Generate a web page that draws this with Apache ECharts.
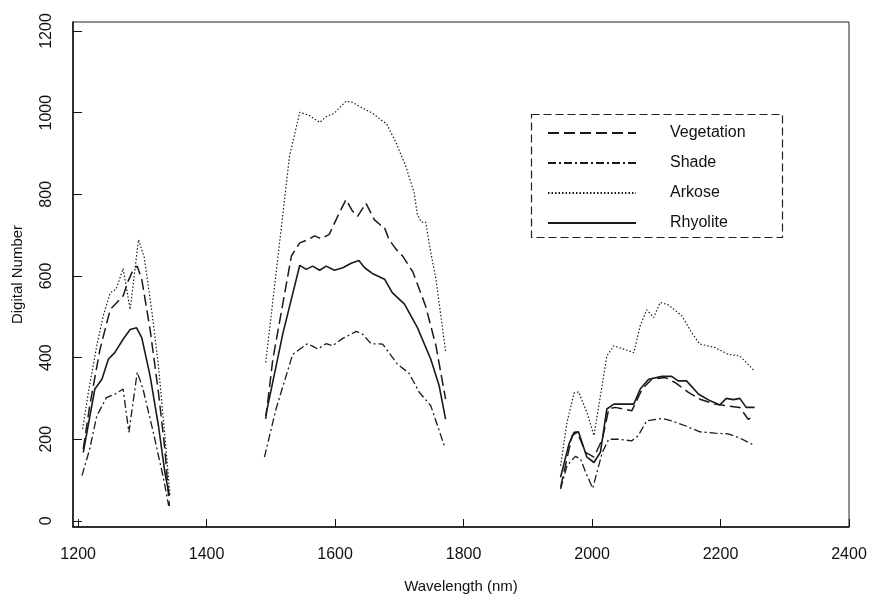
<!DOCTYPE html>
<html>
<head>
<meta charset="utf-8">
<script src="https://cdn.jsdelivr.net/npm/echarts@6/dist/echarts.min.js"></script>
<style>
  html, body { margin: 0; padding: 0; background: #fff; }
  #main { width: 870px; height: 599px; }
</style>
</head>
<body>
<div id="main"></div>
<script>
// wavelength (nm), digital number ; null = gap between the three windows
var vegetation = [
  [1208,176],[1218,282],[1234,420],[1250,518],[1270,551],[1278,588],[1286,616],[1292,624],[1299,592],[1312,469],[1325,315],[1335,176],[1342,37],
  null,
  [1492,250],[1503,395],[1532,649],[1545,681],[1558,689],[1568,698],[1578,691],[1591,702],[1604,746],[1617,787],[1627,759],[1635,746],[1648,778],[1661,738],[1671,724],[1676,722],[1684,689],[1695,665],[1705,649],[1721,610],[1741,526],[1757,429],[1772,298],
  null,
  [1951,82],[1969,209],[1977,217],[1990,168],[2003,156],[2016,200],[2026,274],[2036,278],[2062,270],[2078,323],[2093,347],[2114,351],[2129,339],[2150,315],[2168,298],[2191,286],[2209,282],[2230,278],[2243,249],[2253,257]
];
var shade = [
  [1206,111],[1218,176],[1229,257],[1244,302],[1257,310],[1270,323],[1279,217],[1292,364],[1301,323],[1317,217],[1333,103],[1341,37],
  null,
  [1490,156],[1508,274],[1534,408],[1557,434],[1565,428],[1573,421],[1586,434],[1596,429],[1612,447],[1633,464],[1643,457],[1656,434],[1674,433],[1697,384],[1715,362],[1731,315],[1749,282],[1770,184],
  null,
  [1951,78],[1961,135],[1974,158],[1982,152],[1990,119],[2001,80],[2016,168],[2026,200],[2041,200],[2062,196],[2072,209],[2085,245],[2109,251],[2124,245],[2145,233],[2168,218],[2191,215],[2212,213],[2230,203],[2251,186]
];
var arkose = [
  [1207,225],[1216,315],[1229,429],[1239,502],[1250,559],[1259,567],[1270,618],[1281,518],[1294,689],[1303,645],[1315,510],[1325,380],[1335,209],[1343,62],
  null,
  [1492,388],[1519,755],[1529,893],[1545,1001],[1560,993],[1576,976],[1586,990],[1599,999],[1617,1028],[1627,1025],[1643,1011],[1658,999],[1674,979],[1680,973],[1695,926],[1710,869],[1723,804],[1728,751],[1734,732],[1741,732],[1749,657],[1757,592],[1772,416],
  null,
  [1951,135],[1961,241],[1972,313],[1979,316],[1992,266],[2003,209],[2013,306],[2023,404],[2034,429],[2065,412],[2075,478],[2085,517],[2096,498],[2106,535],[2119,529],[2140,502],[2155,461],[2168,433],[2191,425],[2212,408],[2230,404],[2253,367]
];
var rhyolite = [
  [1208,168],[1226,323],[1237,347],[1247,396],[1257,412],[1270,445],[1281,469],[1291,473],[1299,449],[1312,355],[1325,233],[1335,119],[1342,62],
  null,
  [1492,257],[1519,461],[1545,626],[1555,616],[1565,624],[1576,614],[1586,624],[1599,614],[1612,620],[1625,631],[1637,638],[1646,620],[1658,606],[1677,592],[1689,559],[1708,531],[1728,474],[1749,396],[1762,331],[1772,249],
  null,
  [1951,107],[1964,188],[1972,217],[1979,218],[1992,156],[2003,143],[2013,168],[2023,274],[2034,286],[2065,286],[2075,323],[2088,347],[2109,354],[2124,354],[2134,343],[2147,343],[2166,310],[2184,294],[2199,284],[2209,300],[2220,297],[2230,300],[2240,278],[2253,278]
];
var xTicks = [1200, 1400, 1600, 1800, 2000, 2200, 2400];
var yTicks = [0, 200, 400, 600, 800, 1000, 1200];
var names = ['Vegetation', 'Shade', 'Arkose', 'Rhyolite'];

var font = 'Liberation Sans, Arial, Helvetica, sans-serif';

function toData(arr){
    return arr.map(function(p){ return p ? p : '-'; });
}

function plain(v){
    return String(v);
}

function makeSeries(name, arr, type, width){
    return {
        name: name,
        type: 'line',
        data: toData(arr),
        symbol: 'none',
        connectNulls: false,
        animation: false,
        lineStyle: { color: '#1a1a1a', width: width, type: type }
    };
}

var myChart = echarts.init(document.getElementById('main'));
var option = {
    backgroundColor: '#fff',
    grid: {
        left: 73, right: 21, top: 22, bottom: 71,
        show: true, borderColor: '#222', borderWidth: 1
    },
    legend: {
        data: names,
        orient: 'vertical',
        left: 542,
        top: 120,
        itemWidth: 88,
        itemHeight: 16,
        itemGap: 14,
        itemStyle: { opacity: 0 },
        textStyle: { fontFamily: font, fontSize: 16, color: '#111', padding: [0, 0, 0, 29] }
    },
    graphic: [{
        type: 'rect',
        left: 529, top: 112,
        shape: { width: 251, height: 123 },
        style: { fill: 'none', stroke: '#222', lineWidth: 1.2, lineDash: [8, 4] }
    }],
    xAxis: {
        type: 'value',
        min: 1192, max: 2400,
        name: 'Wavelength (nm)',
        nameLocation: 'middle',
        nameGap: 52,
        nameTextStyle: { fontFamily: font, fontSize: 15, color: '#111' },
        axisLine: { onZero: false, lineStyle: { color: '#111', width: 1.5 } },
        axisTick: { inside: true, length: 8, customValues: xTicks, lineStyle: { color: '#111' } },
        axisLabel: { customValues: xTicks, formatter: plain, margin: 20, fontFamily: font, fontSize: 16, color: '#111' },
        splitLine: { show: false }
    },
    yAxis: {
        type: 'value',
        min: -15, max: 1222,
        name: 'Digital Number',
        nameLocation: 'middle',
        nameGap: 48,
        nameRotate: 90,
        nameTextStyle: { fontFamily: font, fontSize: 15, color: '#111' },
        axisLine: { onZero: false, lineStyle: { color: '#111', width: 1.5 } },
        axisTick: { inside: true, length: 9, customValues: yTicks, lineStyle: { color: '#111' } },
        axisLabel: { customValues: yTicks, formatter: plain, rotate: 90, margin: 18, fontFamily: font, fontSize: 16, color: '#111' },
        splitLine: { show: false }
    },
    series: [
        makeSeries('Vegetation', vegetation, [11, 5], 1.5),
        makeSeries('Shade', shade, [8, 3, 2, 3], 1.3),
        makeSeries('Arkose', arkose, [1.5, 2], 1.2),
        makeSeries('Rhyolite', rhyolite, 'solid', 1.6)
    ]
};
myChart.setOption(option);
</script>
</body>
</html>
